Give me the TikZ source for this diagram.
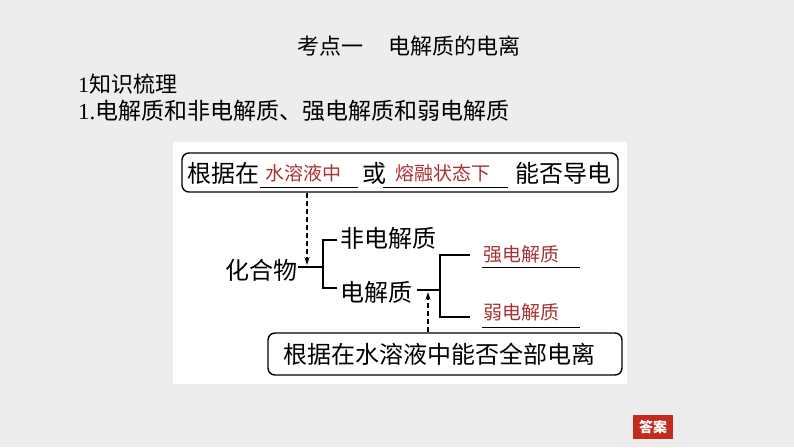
\documentclass[tikz,border=0pt]{standalone}
\usepackage{fontspec}
\setmainfont{Noto Sans CJK SC}
\newfontfamily\ser{Liberation Serif}
\usetikzlibrary{arrows.meta,calc}
\definecolor{bggray}{HTML}{EDEDED}
\definecolor{ansred}{HTML}{C42A1E}
\definecolor{fillred}{HTML}{A83232}
\tikzset{
  txt/.style={inner sep=0pt, anchor=west, font=\fontsize{24}{26}\selectfont},
  redtxt/.style={inner sep=0pt, anchor=west, text=fillred, font=\fontsize{19}{21}\selectfont},
  hdr/.style={inner sep=0pt, anchor=west, font=\fontsize{22}{24}\selectfont},
  box/.style={draw, line width=1.4pt, rounded corners=7pt, inner sep=0pt},
  uline/.style={line width=0.9pt},
  conn/.style={line width=1.2pt},
  darr/.style={line width=1.2pt, dash pattern=on 5pt off 3pt, -{Stealth[length=8pt,width=5pt,open,fill=white,line width=1pt]}},
}
\begin{document}
\begin{tikzpicture}[x=1pt,y=-1pt]
\useasboundingbox (0,0) rectangle (794,447);
\fill[bggray] (0,0) rectangle (794,447);
\fill[white] (173,142) rectangle (627,384);
% headings
\node[hdr] (title) at (297,46) {考点一\hspace{25pt}电解质的电离};
\node[hdr] (sec) at (78,84) {{\ser 1}知识梳理};
\node[hdr, font=\fontsize{23}{25}\selectfont] (sub) at (78,111) {{\ser 1.}电解质和非电解质、强电解质和弱电解质};
% top box
\node[box, minimum width=436pt, minimum height=39pt] (topbox) at (400,172.5) {};
\node[txt] (t1) at (187,173) {根据在};
\node[redtxt] (b1) at (265,173) {水溶液中};
\node[txt] (t2) at (362,173) {或};
\node[redtxt] (b2) at (395,173) {熔融状态下};
\node[txt] (t3) at (515,173) {能否导电};
\coordinate (u1a) at (260,187); \coordinate (u1b) at (358,187);
\coordinate (u2a) at (383,187); \coordinate (u2b) at (508,187);
\draw[uline] (u1a) -- (u1b);
\draw[uline] (u2a) -- (u2b);
% tree
\node[txt] (hhw) at (225,270) {化合物};
\node[txt] (fdj) at (340,238) {非电解质};
\node[txt] (dj) at (340,292) {电解质};
\node[redtxt] (qd) at (483,254) {强电解质};
\node[redtxt] (rd) at (483,312) {弱电解质};
\coordinate (br1) at (323,267);
\coordinate (br2) at (440,290);
\coordinate (a1end) at (307,265);
\coordinate (a2end) at (428,292);
\draw[conn] ($(hhw.east)+(1,-3)$) -- (br1);
\draw[conn] ($(fdj.west)+(-3,2)$) -- (323,240) -- (323,288) -- ($(dj.west)+(-3,-4)$);
\draw[conn] ($(dj.east)+(5,-2)$) -- (br2);
\draw[conn] (470,255) -- (440,255) -- (440,317) -- (470,317);
\draw[uline] (482,267) -- (580,267);
\draw[uline] (482,327) -- (580,327);
% bottom box
\node[box, minimum width=354pt, minimum height=42pt] (botbox) at (445,354) {};
\node[txt] (t4) at (283,354) {根据在水溶液中能否全部电离};
% dashed arrows
\draw[darr] (topbox.south -| a1end) -- (a1end);
\draw[darr] (botbox.north -| a2end) -- (a2end);
% answer button
\node[fill=ansred, minimum width=40pt, minimum height=24pt, inner sep=0pt, text=white, font=\fontsize{14}{16}\selectfont\bfseries] (ans) at (653,427) {答案};
\end{tikzpicture}
\end{document}
